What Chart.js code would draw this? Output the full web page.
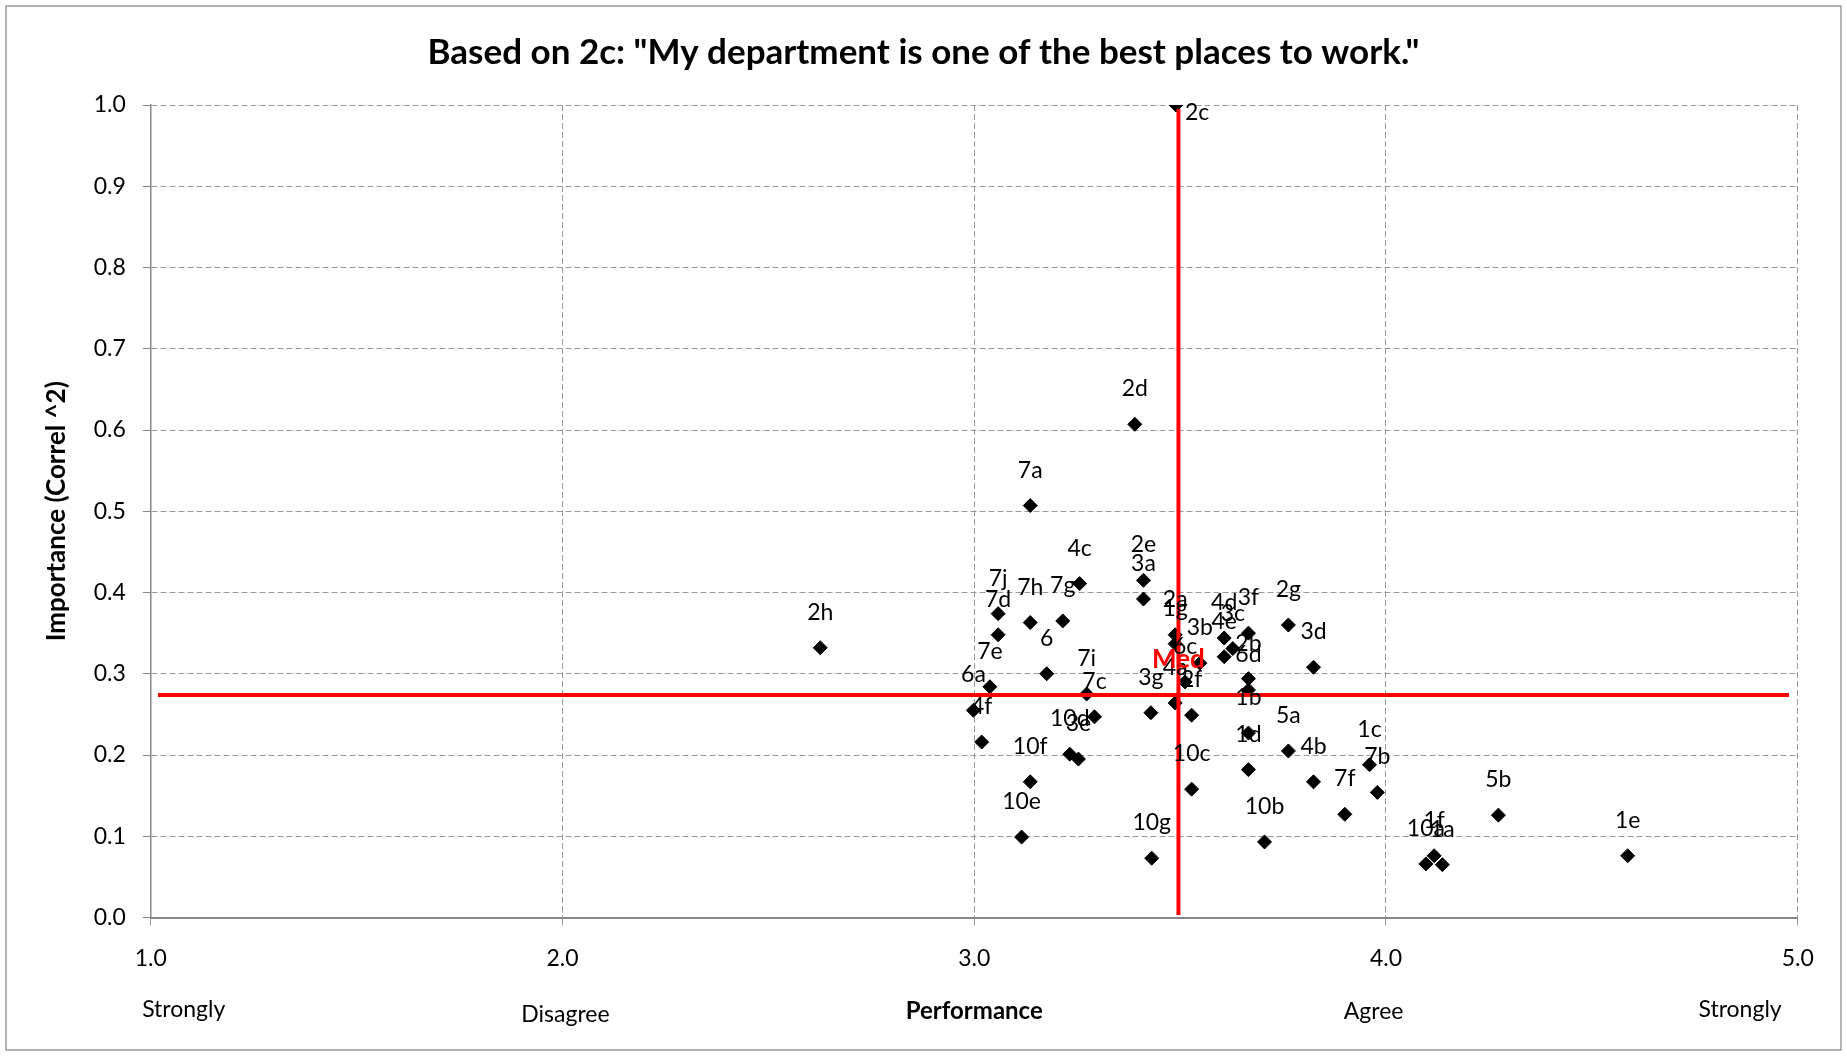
<!DOCTYPE html>
<html>
<head>
<meta charset="utf-8">
<script src="https://cdn.jsdelivr.net/npm/chart.js@4.4.1/dist/chart.umd.min.js"></script>
<style>
html,body{margin:0;padding:0;background:#fff;}
#wrap{width:1847px;height:1056px;}
</style>
</head>
<body>
<div id="wrap"><canvas id="c" width="1847" height="1056"></canvas></div>
<script>
// ---- data ----
const pointLabels = ['2c','2d','7a','4c','2e','3a','7j','7d','7h','7g','6','7e','6a','4f','7i','7c','10d','3e','10f','10e','3g','10g','2a','1g','4a','6c','3b','2f','10c','4d','3c','4e','3f','2b','6d','1b','1d','2g','3d','5a','4b','10b','7f','1c','7b','1f','10a','1a','5b','1e','2h'];
const performance = [3.490,3.390,3.136,3.256,3.411,3.411,3.058,3.058,3.136,3.215,3.176,3.038,2.998,3.018,3.273,3.292,3.232,3.253,3.136,3.115,3.429,3.431,3.488,3.488,3.488,3.512,3.548,3.528,3.528,3.607,3.628,3.607,3.666,3.666,3.666,3.666,3.666,3.763,3.824,3.763,3.824,3.705,3.900,3.960,3.979,4.117,4.097,4.137,4.273,4.587,2.626];
const importance  = [1.000,0.607,0.507,0.411,0.415,0.392,0.374,0.348,0.363,0.365,0.300,0.284,0.255,0.216,0.275,0.247,0.201,0.195,0.167,0.099,0.252,0.073,0.348,0.337,0.264,0.290,0.313,0.249,0.158,0.344,0.331,0.321,0.350,0.294,0.280,0.227,0.182,0.360,0.308,0.205,0.167,0.093,0.127,0.188,0.154,0.076,0.066,0.065,0.126,0.076,0.332];
const medianLabel = 'Med';
const medianPerformance = 3.496;
const medianImportance = 0.274;
const medianLineXRange = [1.0175, 4.979];
const medianLineYRange = [0.003, 0.995];
const rightPlacedLabels = ['2c'];
const titleText = 'Based on 2c: "My department is one of the best places to work."';
const yTitleText = 'Importance (Correl ^2)';
const bottomCaptions = ['Strongly','Disagree','Performance','Agree','Strongly'];
const bottomCaptionAt = [1.08, 2.007, 3.0, 3.97, 4.86];

// ---- build ----
const points = performance.map((x,i)=>({x:x, y:importance[i]}));
const FONT = 'Lato';
Chart.defaults.font.family = FONT;
Chart.defaults.color = '#000';

const decor = {
  id: 'decor',
  beforeDraw(chart){
    const c = chart.ctx;
    c.save();
    c.fillStyle = '#fff';
    c.fillRect(0,0,chart.width,chart.height);
    c.restore();
  },
  afterDatasetsDraw(chart){
    const c = chart.ctx;
    c.save();
    c.font = '23px ' + FONT;
    c.fillStyle = '#000';
    c.textBaseline = 'alphabetic';
    chart.getDatasetMeta(0).data.forEach((el,i)=>{
      const name = pointLabels[i];
      if (rightPlacedLabels.includes(name)) {
        c.textAlign = 'left';
        c.fillText(name, el.x + 9, el.y + 15);
      } else {
        c.textAlign = 'center';
        c.fillText(name, el.x, el.y - 28);
      }
    });
    const m = chart.getDatasetMeta(3).data[0];
    c.font = 'bold 26px ' + FONT;
    c.fillStyle = '#ff0000';
    c.textAlign = 'center';
    c.fillText(medianLabel, m.x, m.y - 27);
    c.restore();
  },
  afterDraw(chart){
    const c = chart.ctx;
    const xs = chart.scales.x;
    c.save();
    // outer frame
    c.strokeStyle = '#8a8a8a';
    c.lineWidth = 1.3;
    c.strokeRect(6, 6, chart.width - 12, chart.height - 12);
    // title
    c.fillStyle = '#000';
    c.font = 'bold 35px ' + FONT;
    c.textAlign = 'center';
    c.textBaseline = 'alphabetic';
    c.fillText(titleText, chart.width/2, 64);
    // y title
    c.save();
    c.translate(57, (chart.chartArea.top + chart.chartArea.bottom)/2);
    c.rotate(-Math.PI/2);
    c.font = 'bold 26px ' + FONT;
    c.textBaseline = 'middle';
    c.fillText(yTitleText, 0, 0);
    c.restore();
    // bottom captions
    const ys = [1010, 1015, 1011, 1012, 1010];
    bottomCaptions.forEach((t,i)=>{
      c.font = (t === 'Performance' ? 'bold 24px ' : '23px ') + FONT;
      c.textAlign = 'center';
      c.textBaseline = 'middle';
      c.fillText(t, xs.getPixelForValue(bottomCaptionAt[i]), ys[i]);
    });
    c.restore();
  }
};

new Chart(document.getElementById('c'), {
  type: 'scatter',
  data: {
    datasets: [
      { label: 'Items', data: points, pointStyle: 'rectRot', pointRadius: 7,
        pointBackgroundColor: '#000', pointBorderColor: '#000', pointBorderWidth: 1, showLine: false, order: 3 },
      { label: 'MedH', data: [{x: medianLineXRange[0], y: medianImportance}, {x: medianLineXRange[1], y: medianImportance}],
        showLine: true, borderColor: '#ff0000', borderWidth: 4, pointRadius: 0, order: 1 },
      { label: 'MedV', data: [{x: medianPerformance, y: medianLineYRange[0]}, {x: medianPerformance, y: medianLineYRange[1]}],
        showLine: true, borderColor: '#ff0000', borderWidth: 4, pointRadius: 0, order: 1 },
      { label: 'Med', data: [{x: medianPerformance, y: medianImportance}], pointRadius: 0, showLine: false, order: 0 }
    ]
  },
  options: {
    responsive: false,
    animation: false,
    events: [],
    layout: { padding: { top: 105, left: 0, right: 49.3, bottom: 0 } },
    plugins: { legend: { display: false }, tooltip: { enabled: false }, title: { display: false } },
    scales: {
      x: {
        type: 'linear', min: 1, max: 5,
        afterFit(s){ s.height = 1056 - 917.5; },
        ticks: { stepSize: 1, callback: v => Number(v).toFixed(1), font: { size: 23, family: FONT }, color: '#000', padding: 19, maxRotation: 0 },
        grid: { color: '#9a9a9a', lineWidth: 1, tickLength: 8, tickColor: '#9a9a9a', tickBorderDash: [] },
        border: { display: true, color: '#878787', width: 2, dash: [6, 3] }
      },
      y: {
        type: 'linear', min: 0, max: 1,
        afterFit(s){ s.width = 150.8; },
        ticks: { stepSize: 0.1, callback: v => Number(v).toFixed(1), font: { size: 23, family: FONT }, color: '#000', padding: 17 },
        grid: { color: '#9a9a9a', lineWidth: 1, tickLength: 8, tickColor: '#878787', tickBorderDash: [] },
        border: { display: true, color: '#878787', width: 1.5, dash: [6, 3] }
      }
    }
  },
  plugins: [decor]
});
</script>
</body>
</html>
